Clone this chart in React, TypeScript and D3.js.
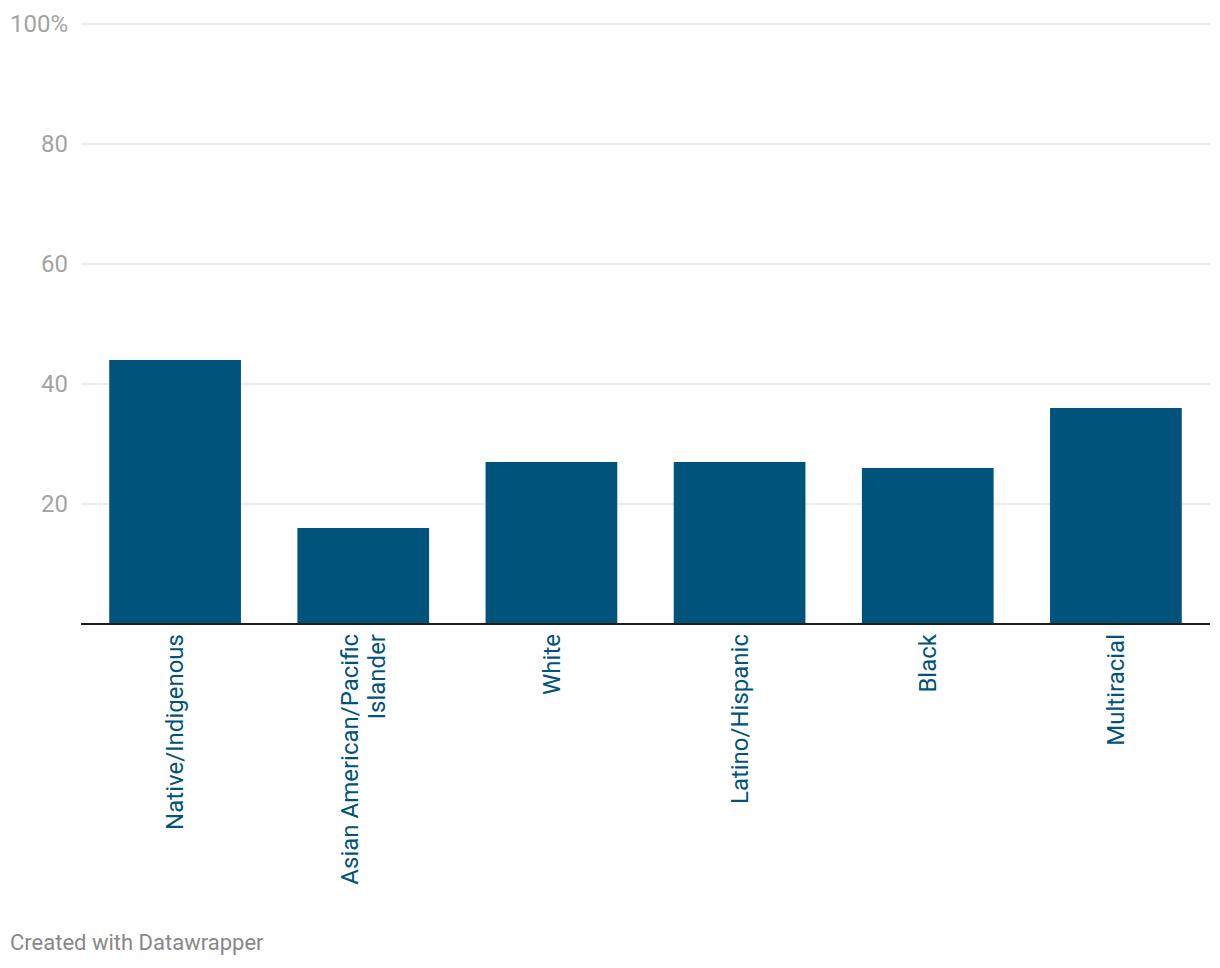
import React from "react";
import * as d3 from "d3";

const categories = [
  ["Native/Indigenous"],
  ["Asian American/Pacific", "Islander"],
  ["White"],
  ["Latino/Hispanic"],
  ["Black"],
  ["Multiracial"],
];
const values = [44, 16, 27, 27, 26, 36];
const yTicks = [0, 20, 40, 60, 80, 100];

const width = 1220;
const height = 968;
const left = 81;
const right = 1210;
const top = 24;
const bottom = 624;

const barColor = "#00537a";

export default function App() {
  const keys = categories.map((c) => c.join(" "));
  const x = d3.scaleBand<string>().domain(keys).range([left, right]).paddingInner(0.3).paddingOuter(0.15);
  const y = d3.scaleLinear().domain([0, 100]).range([bottom, top]);

  return (
    <svg
      width={width}
      height={height}
      style={{ position: "absolute", left: 0, top: 0, fontFamily: "Roboto, sans-serif" }}
    >
      <rect width={width} height={height} fill="#fff" />
      {yTicks.map((t) => (
        <g key={t}>
          {t > 0 && (
            <line x1={left} x2={right} y1={y(t)} y2={y(t)} stroke="#e6e6e6" strokeWidth={1.5} />
          )}
          {t > 0 && (
            <text x={68} y={y(t)} dy="0.35em" textAnchor="end" fontSize={24} fill="#a3a3a3">
              {t === 100 ? "100%" : t}
            </text>
          )}
        </g>
      ))}
      {values.map((v, i) => (
        <rect
          key={keys[i]}
          x={x(keys[i])}
          y={y(v)}
          width={x.bandwidth()}
          height={y(0) - y(v)}
          fill={barColor}
        />
      ))}
      <line x1={left} x2={right} y1={bottom} y2={bottom} stroke="#1d1d1d" strokeWidth={2} />
      {categories.map((lines, i) => {
        const cx = (x(keys[i]) ?? 0) + x.bandwidth() / 2;
        const lh = 27;
        const offset = -((lines.length - 1) * lh) / 2;
        return (
          <text
            key={keys[i]}
            transform={`translate(${cx},${bottom + 10}) rotate(-90)`}
            textAnchor="end"
            fontSize={24}
            fill={barColor}
          >
            {lines.map((l, j) => (
              <tspan key={j} x={0} y={offset + j * lh} dy="0.35em">
                {l}
              </tspan>
            ))}
          </text>
        );
      })}
      <text x={10} y={942} dy="0.35em" fontSize={22} fill="#888">
        Created with Datawrapper
      </text>
    </svg>
  );
}
